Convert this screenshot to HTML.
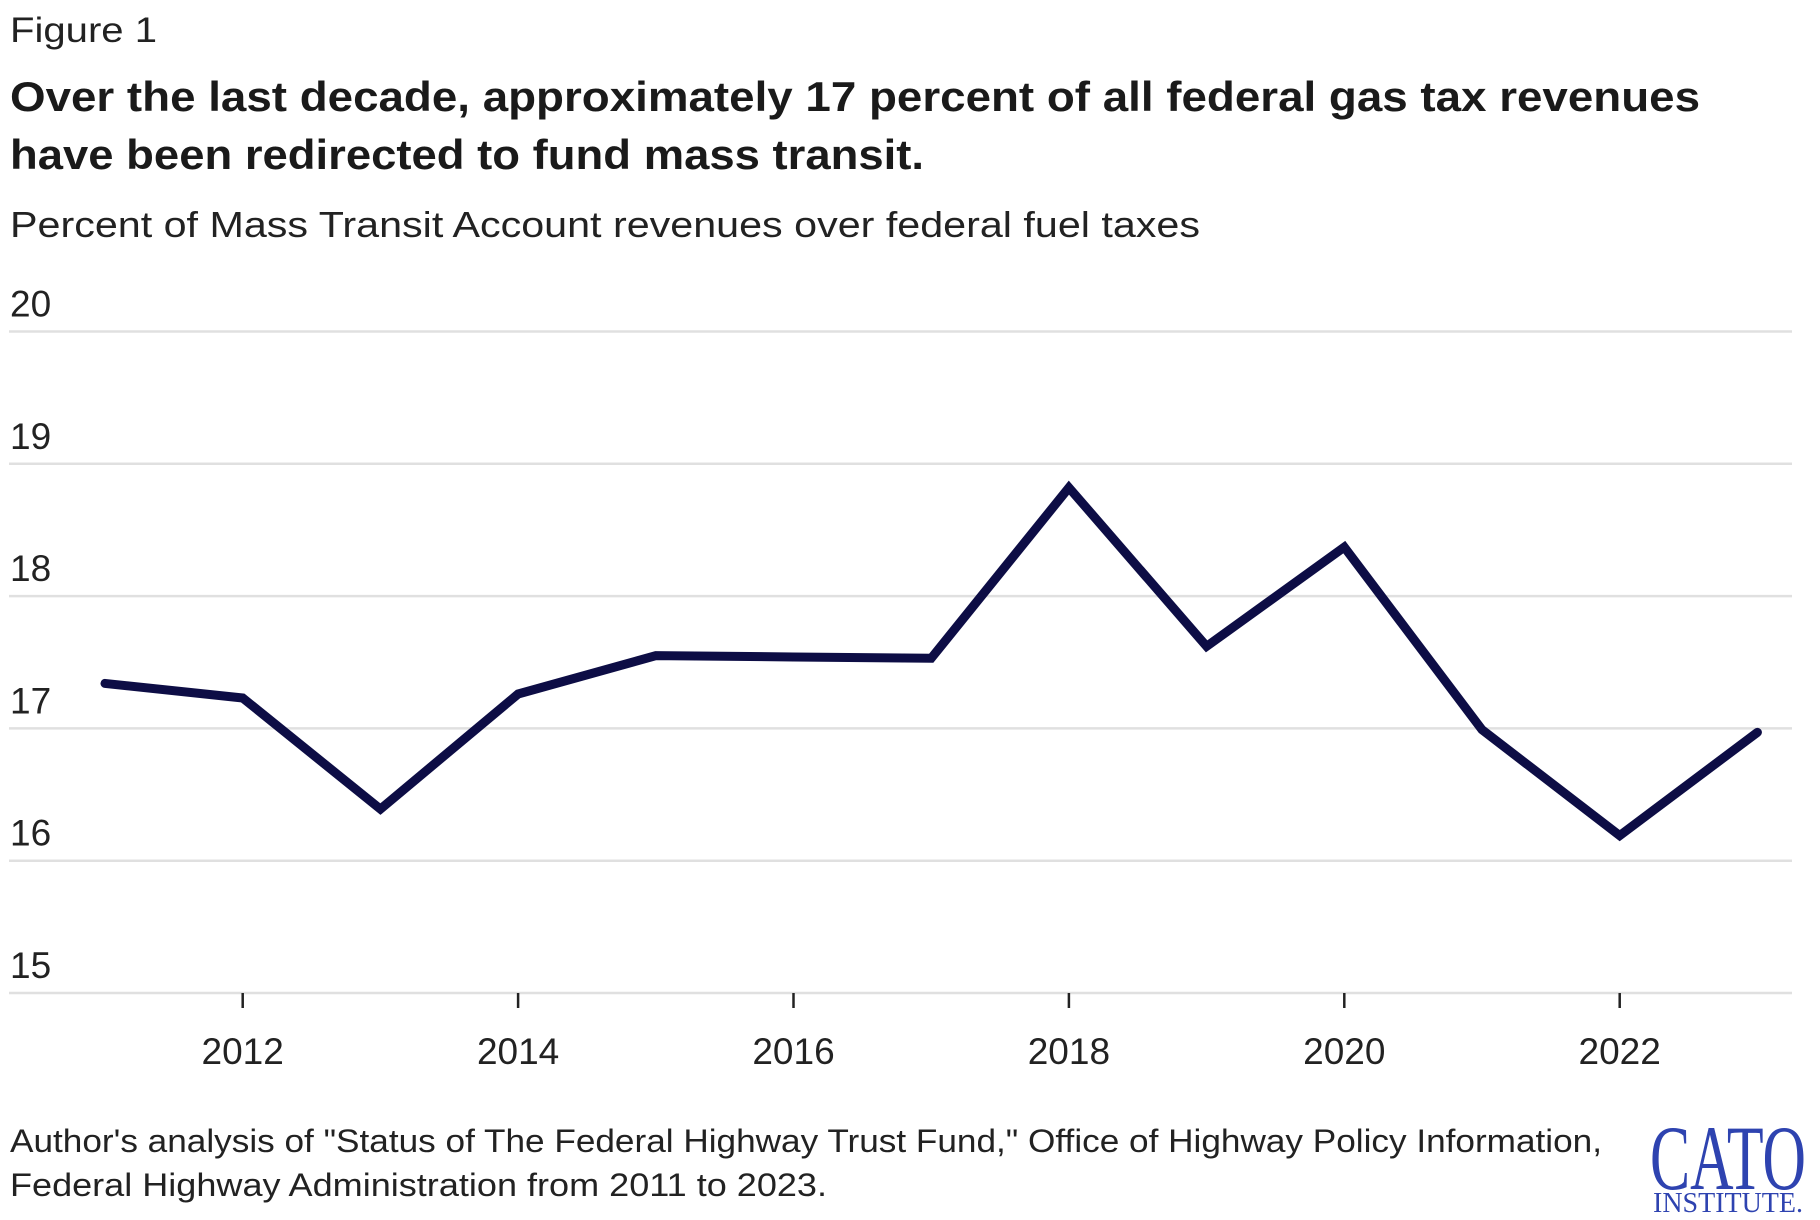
<!DOCTYPE html>
<html><head><meta charset="utf-8"><style>
html,body{margin:0;padding:0;background:#fff;}
svg{display:block;font-family:"Liberation Sans",sans-serif;}
</style></head><body>
<svg id="chart" width="1820" height="1220" viewBox="0 0 1820 1220">
<text x="10" y="42" font-size="35" fill="#222" textLength="147" lengthAdjust="spacingAndGlyphs">Figure 1</text>
<text x="10" y="111" font-size="42" font-weight="bold" fill="#1a1a1a" textLength="1690" lengthAdjust="spacingAndGlyphs">Over the last decade, approximately 17 percent of all federal gas tax revenues</text>
<text x="10" y="169" font-size="42" font-weight="bold" fill="#1a1a1a" textLength="914" lengthAdjust="spacingAndGlyphs">have been redirected to fund mass transit.</text>
<text x="10" y="237" font-size="36" fill="#222" textLength="1190" lengthAdjust="spacingAndGlyphs">Percent of Mass Transit Account revenues over federal fuel taxes</text>
<g id="grid"></g>
<g id="xaxis"></g>
<g id="series"></g>
<text x="10" y="1152" font-size="32" fill="#222" textLength="1592" lengthAdjust="spacingAndGlyphs">Author's analysis of "Status of The Federal Highway Trust Fund," Office of Highway Policy Information,</text>
<text x="10" y="1196" font-size="32" fill="#222" textLength="817" lengthAdjust="spacingAndGlyphs">Federal Highway Administration from 2011 to 2023.</text>
<g>
<text x="1650" y="1189" font-family="Liberation Serif,serif" font-size="92" fill="#2e43b0" textLength="156" lengthAdjust="spacingAndGlyphs">CATO</text>
<text x="1653" y="1212" font-family="Liberation Serif,serif" font-size="28" fill="#2e43b0" textLength="150" lengthAdjust="spacingAndGlyphs">INSTITUTE.</text>
</g>
</svg>
<script>
const years=[2011,2012,2013,2014,2015,2016,2017,2018,2019,2020,2021,2022,2023];
const values=[17.34,17.23,16.39,17.26,17.55,17.54,17.53,18.82,17.62,18.37,16.99,16.19,16.97];
const yTicks=[15,16,17,18,19,20];
const xTicks=[2012,2014,2016,2018,2020,2022];
const NS="http://www.w3.org/2000/svg";
const x=v=>105+(v-2011)*137.7;
const y=v=>993-(v-15)*132.3;
function mk(tag,attrs,parent){const e=document.createElementNS(NS,tag);for(const k in attrs)e.setAttribute(k,attrs[k]);parent.appendChild(e);return e;}
const grid=document.getElementById('grid');
yTicks.forEach(t=>{
  const l=mk('line',{x1:9,x2:1792,y1:y(t),y2:y(t),stroke:'#e0e0e0','stroke-width':2.5},grid);
  
  
  const tx=mk('text',{x:10,y:y(t)-15,'font-size':37,fill:'#222'},grid);
  tx.textContent=t;
  
  
});
const xa=document.getElementById('xaxis');
xTicks.forEach(t=>{
  const l=mk('line',{x1:x(t),x2:x(t),y1:y(15),y2:y(15)+15,stroke:'#222','stroke-width':2.5},xa);
  
  
  const tx=mk('text',{x:x(t),y:1064,'font-size':37,fill:'#222','text-anchor':'middle'},xa);
  tx.textContent=t;
  
  
});
const s=document.getElementById('series');
const p=mk('polyline',{points:years.map((yr,i)=>x(yr)+','+y(values[i])).join(' '),fill:'none',stroke:'#0d0d45','stroke-width':9,'stroke-linejoin':'miter','stroke-linecap':'round'},s);


</script>
</body></html>
